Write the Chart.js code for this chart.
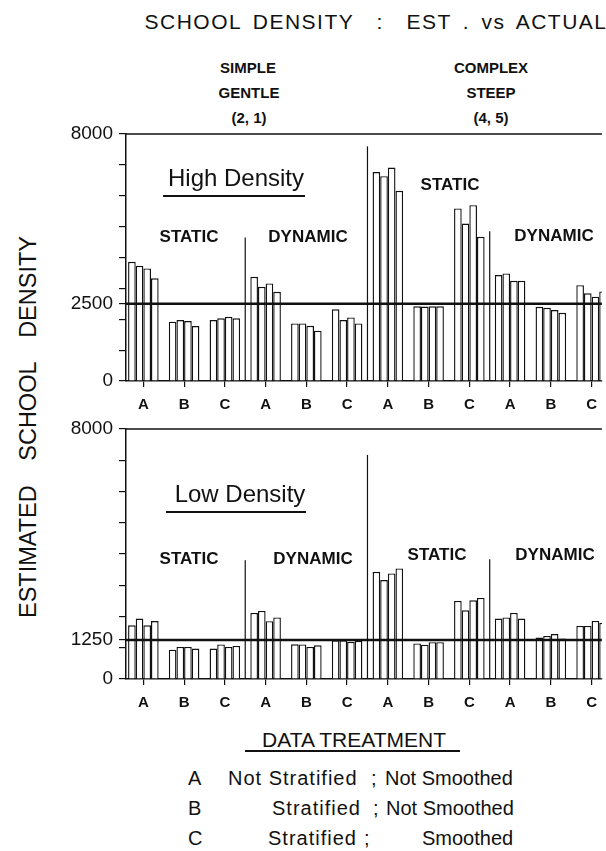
<!DOCTYPE html>
<html>
<head>
<meta charset="utf-8">
<script src="https://cdn.jsdelivr.net/npm/chart.js@4"></script>
<style>
    html, body { margin: 0; padding: 0; background: #fff; }
    #page { position: relative; width: 606px; height: 851px; overflow: hidden; background: #fff;
            font-family: 'Liberation Sans', Arial, Helvetica, sans-serif; color: #111; }
    .txt { position: absolute; white-space: pre; transform: translate(-50%, -50%); line-height: 1; }
    .left { transform: translate(0, -50%); }
    .b { font-weight: bold; }
    .wide { letter-spacing: 1px; }
    .box { position: absolute; left: 0; width: 606px; }
    .rule { position: absolute; height: 2px; background: #111; }
</style>
</head>
<body>
<div id="page">
    <div class="txt" style="left:376px;top:21px;font-size:21px;letter-spacing:1.5px;word-spacing:4px">SCHOOL DENSITY  :  EST . vs ACTUAL</div>

    <div class="txt b" style="left:248px;top:67px;font-size:15px">SIMPLE</div>
    <div class="txt b" style="left:249px;top:92px;font-size:15px">GENTLE</div>
    <div class="txt b" style="left:249px;top:117px;font-size:15px">(2, 1)</div>
    <div class="txt b" style="left:491px;top:67px;font-size:15px">COMPLEX</div>
    <div class="txt b" style="left:491px;top:92px;font-size:15px">STEEP</div>
    <div class="txt b" style="left:491px;top:117px;font-size:15px">(4, 5)</div>

    <div class="txt" style="left:29px;top:427px;font-size:23.5px;word-spacing:18px;transform:translate(-50%,-50%) rotate(-90deg)">ESTIMATED SCHOOL DENSITY</div>

    <div class="box" style="top:100px;height:310px"><canvas id="highChart"></canvas></div>
    <div class="box" style="top:400px;height:320px"><canvas id="lowChart"></canvas></div>

    <div class="txt" style="left:236px;top:178px;font-size:24px">High Density</div>
    <div class="rule" style="left:163px;top:195px;width:142px"></div>
    <div class="txt b" style="left:189px;top:236px;font-size:17px">STATIC</div>
    <div class="txt b" style="left:308px;top:236px;font-size:17px">DYNAMIC</div>
    <div class="txt b" style="left:450px;top:184px;font-size:17px">STATIC</div>
    <div class="txt b" style="left:554px;top:235px;font-size:17px">DYNAMIC</div>

    <div class="txt" style="left:240px;top:494px;font-size:24px">Low Density</div>
    <div class="rule" style="left:166px;top:511px;width:140px"></div>
    <div class="txt b" style="left:189px;top:558px;font-size:17px">STATIC</div>
    <div class="txt b" style="left:313px;top:558px;font-size:17px">DYNAMIC</div>
    <div class="txt b" style="left:437px;top:554px;font-size:17px">STATIC</div>
    <div class="txt b" style="left:555px;top:554px;font-size:17px">DYNAMIC</div>

    <div class="txt" style="left:354px;top:739px;font-size:21px">DATA TREATMENT</div>
    <div class="rule" style="left:245px;top:750px;width:215px"></div>
    <div class="txt left" style="left:188px;top:778px;font-size:20px">A</div>
    <div class="txt left wide" style="left:228px;top:778px;font-size:20px">Not Stratified</div>
    <div class="txt left" style="left:371px;top:778px;font-size:20px">;</div>
    <div class="txt left" style="left:385px;top:778px;font-size:20px">Not Smoothed</div>
    <div class="txt left" style="left:188px;top:808px;font-size:20px">B</div>
    <div class="txt left wide" style="left:272px;top:808px;font-size:20px">Stratified</div>
    <div class="txt left" style="left:373px;top:808px;font-size:20px">;</div>
    <div class="txt left" style="left:386px;top:808px;font-size:20px">Not Smoothed</div>
    <div class="txt left" style="left:188px;top:838px;font-size:20px">C</div>
    <div class="txt left wide" style="left:268px;top:838px;font-size:20px">Stratified</div>
    <div class="txt left" style="left:364px;top:838px;font-size:20px">;</div>
    <div class="txt left" style="left:422px;top:838px;font-size:20px">Smoothed</div>
</div>

<script>
// 数据：12 组（A B C 重复），每组 4 根柱
const treatLabels = ['A', 'B', 'C', 'A', 'B', 'C', 'A', 'B', 'C', 'A', 'B', 'C'];

// High Density（实际值 2500）
const highBar1 = [3860, 1920, 1975, 3375, 1865, 2320, 6770, 2420, 5590, 3430, 2405, 3105];
const highBar2 = [3730, 1975, 2030, 3050, 1865, 1975, 6635, 2410, 5100, 3485, 2370, 2840];
const highBar3 = [3645, 1940, 2080, 3160, 1790, 2060, 6915, 2420, 5695, 3245, 2300, 2730];
const highBar4 = [3325, 1780, 2030, 2890, 1630, 1865, 6160, 2420, 4670, 3245, 2210, 2900];
const highActual = 2500;
const highTickLabels = [0, 2500, 8000];
const highDividerTops = [4650, 7600, 4850];

// Low Density（实际值 1250）
const lowBar1 = [1720, 940, 975, 2115, 1110, 1240, 3430, 1140, 2500, 1935, 1325, 1700];
const lowBar2 = [1935, 1025, 1105, 2180, 1105, 1240, 3165, 1100, 2200, 1970, 1380, 1700];
const lowBar3 = [1720, 1025, 1025, 1850, 1025, 1185, 3380, 1180, 2520, 2115, 1440, 1860];
const lowBar4 = [1855, 975, 1060, 1970, 1080, 1220, 3540, 1180, 2595, 1935, 1300, 1800];
const lowActual = 1250;
const lowTickLabels = [0, 1250, 8000];
const lowDividerTops = [3800, 7170, 3830];

const dividerPos = [2.5, 5.5, 8.5];
const FONT = "'Liberation Sans', Arial, Helvetica, sans-serif";

// 实际值横线、顶边线和分隔竖线
const refLinesPlugin = {
    id: 'refLines',
    afterDatasetsDraw(chart, args, opts) {
        const { ctx, chartArea, scales } = chart;
        const x = scales.x, y = scales.y;
        ctx.save();
        ctx.strokeStyle = '#111';

        // 顶边
        ctx.lineWidth = 1.5;
        ctx.beginPath();
        ctx.moveTo(chartArea.left, y.getPixelForValue(8000));
        ctx.lineTo(chartArea.right, y.getPixelForValue(8000));
        ctx.stroke();

        // 分隔竖线
        ctx.lineWidth = 1.2;
        opts.dividerTops.forEach((top, i) => {
            const px = x.getPixelForValue(dividerPos[i]);
            ctx.beginPath();
            ctx.moveTo(px, y.getPixelForValue(0));
            ctx.lineTo(px, y.getPixelForValue(top));
            ctx.stroke();
        });

        // 实际值
        ctx.lineWidth = 2.6;
        const ry = y.getPixelForValue(opts.actual);
        ctx.beginPath();
        ctx.moveTo(chartArea.left, ry);
        ctx.lineTo(chartArea.right, ry);
        ctx.stroke();
        ctx.restore();
    }
};

function toPoints(values) {
    return values.map((v, i) => ({ x: i, y: v }));
}

function makeChart(canvasId, bars, actual, tickLabels, dividerTops, padTop, xHeight) {
    const ctx = document.getElementById(canvasId).getContext('2d');
    return new Chart(ctx, {
        type: 'bar',
        data: {
            datasets: bars.map(values => ({
                data: toPoints(values),
                backgroundColor: '#fff',
                borderColor: '#111',
                borderWidth: 1.4
            }))
        },
        options: {
            responsive: true,
            maintainAspectRatio: false,
            animation: false,
            layout: { padding: { top: padTop, right: 0, bottom: 0, left: 0 } },
            datasets: { bar: { categoryPercentage: 0.75, barPercentage: 1.0 } },
            plugins: {
                legend: { display: false },
                tooltip: { enabled: false },
                refLines: { actual: actual, dividerTops: dividerTops }
            },
            scales: {
                x: {
                    type: 'linear',
                    min: -0.426,
                    max: 11.253,
                    offset: false,
                    afterBuildTicks: scale => {
                        scale.ticks = treatLabels.map((_, i) => ({ value: i }));
                    },
                    afterFit: scale => { scale.height = xHeight; },
                    ticks: {
                        autoSkip: false,
                        maxRotation: 0,
                        padding: 9,
                        color: '#111',
                        font: { family: FONT, size: 15, weight: 'bold' },
                        callback: value => treatLabels[value] || ''
                    },
                    grid: { drawOnChartArea: false, offset: false, tickLength: 6, color: '#111', lineWidth: 1.2 },
                    border: { display: true, color: '#111', width: 1.5 }
                },
                y: {
                    min: 0,
                    max: 8000,
                    afterBuildTicks: scale => {
                        const vals = [0, 1000, 2000, 3000, 4000, 5000, 6000, 7000, 8000, actual];
                        scale.ticks = vals.sort((a, b) => a - b).map(v => ({ value: v }));
                    },
                    afterFit: scale => { scale.width = 126; },
                    ticks: {
                        autoSkip: false,
                        padding: 6,
                        color: '#111',
                        font: { family: FONT, size: 19 },
                        callback: value => tickLabels.includes(value) ? String(value) : ''
                    },
                    grid: { drawOnChartArea: false, tickLength: 7, color: '#111', lineWidth: 1.2 },
                    border: { display: true, color: '#111', width: 1.5 }
                }
            }
        },
        plugins: [refLinesPlugin]
    });
}

makeChart('highChart', [highBar1, highBar2, highBar3, highBar4], highActual, highTickLabels, highDividerTops, 34, 29);
makeChart('lowChart', [lowBar1, lowBar2, lowBar3, lowBar4], lowActual, lowTickLabels, lowDividerTops, 29, 41);
</script>
</body>
</html>
